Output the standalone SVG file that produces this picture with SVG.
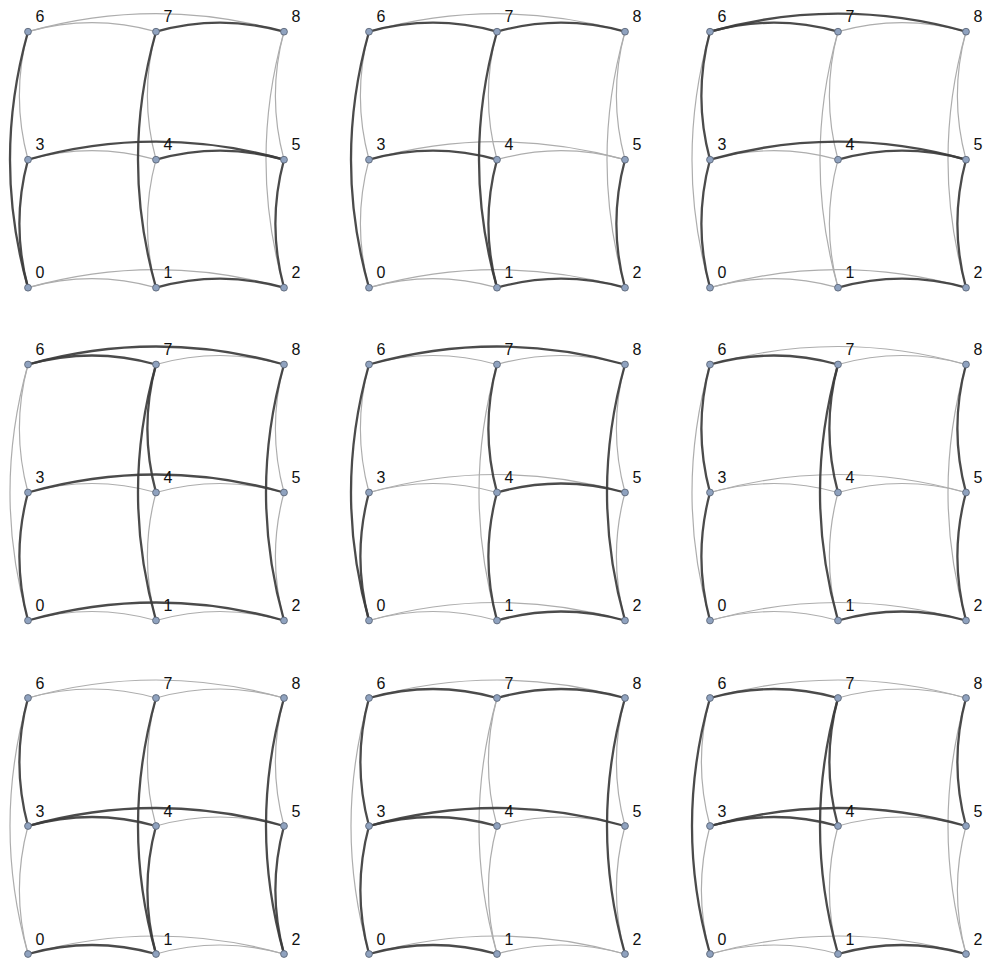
<svg xmlns="http://www.w3.org/2000/svg" width="986" height="960" viewBox="0 0 986 960">
<style>
.g{fill:none;stroke:#adadad;stroke-width:1.2}
.d{fill:none;stroke:#3c3c3c;stroke-width:2.3;stroke-opacity:0.92}
.n circle{fill:#8fa2bf;stroke:#5d6878;stroke-width:0.9}
.n text{font-family:"Liberation Sans",Arial,sans-serif;font-size:16px;fill:#111}
</style>
<defs>
<path id="e67" d="M0 0 C42.7 -12 85.3 -12 128 0"/>
<path id="e78" d="M128 0 C170.7 -12 213.3 -12 256 0"/>
<path id="e68" d="M0 0 C85.3 -24 170.7 -24 256 0"/>
<path id="e34" d="M0 128 C42.7 116 85.3 116 128 128"/>
<path id="e45" d="M128 128 C170.7 116 213.3 116 256 128"/>
<path id="e35" d="M0 128 C85.3 104 170.7 104 256 128"/>
<path id="e01" d="M0 256 C42.7 244 85.3 244 128 256"/>
<path id="e12" d="M128 256 C170.7 244 213.3 244 256 256"/>
<path id="e02" d="M0 256 C85.3 232 170.7 232 256 256"/>
<path id="e63" d="M0 0 C-11.5 42.7 -11.5 85.3 0 128"/>
<path id="e30" d="M0 128 C-11.5 170.7 -11.5 213.3 0 256"/>
<path id="e60" d="M0 0 C-24 85.3 -24 170.7 0 256"/>
<path id="e74" d="M128 0 C116.5 42.7 116.5 85.3 128 128"/>
<path id="e41" d="M128 128 C116.5 170.7 116.5 213.3 128 256"/>
<path id="e71" d="M128 0 C104 85.3 104 170.7 128 256"/>
<path id="e85" d="M256 0 C244.5 42.7 244.5 85.3 256 128"/>
<path id="e52" d="M256 128 C244.5 170.7 244.5 213.3 256 256"/>
<path id="e82" d="M256 0 C232 85.3 232 170.7 256 256"/>
<g id="nodes">
<g class="n"><circle cx="0" cy="256" r="3.4"/><text x="7.5" y="246.5">0</text></g>
<g class="n"><circle cx="128" cy="256" r="3.4"/><text x="135.5" y="246.5">1</text></g>
<g class="n"><circle cx="256" cy="256" r="3.4"/><text x="263.5" y="246.5">2</text></g>
<g class="n"><circle cx="0" cy="128" r="3.4"/><text x="7.5" y="118.5">3</text></g>
<g class="n"><circle cx="128" cy="128" r="3.4"/><text x="135.5" y="118.5">4</text></g>
<g class="n"><circle cx="256" cy="128" r="3.4"/><text x="263.5" y="118.5">5</text></g>
<g class="n"><circle cx="0" cy="0" r="3.4"/><text x="7.5" y="-9.5">6</text></g>
<g class="n"><circle cx="128" cy="0" r="3.4"/><text x="135.5" y="-9.5">7</text></g>
<g class="n"><circle cx="256" cy="0" r="3.4"/><text x="263.5" y="-9.5">8</text></g>
</g>
</defs>

<g id="panel1" transform="translate(28,31.7)">
<g id="p1-edges">
<use href="#e67" class="g"/><use href="#e68" class="g"/><use href="#e34" class="g"/><use href="#e01" class="g"/><use href="#e02" class="g"/><use href="#e63" class="g"/><use href="#e74" class="g"/><use href="#e41" class="g"/><use href="#e85" class="g"/><use href="#e82" class="g"/>
<use href="#e78" class="d"/><use href="#e60" class="d"/><use href="#e30" class="d"/><use href="#e35" class="d"/><use href="#e45" class="d"/><use href="#e71" class="d"/><use href="#e12" class="d"/><use href="#e52" class="d"/>
</g>
<g id="p1-nodes"><use href="#nodes"/></g>
</g>

<g id="panel2" transform="translate(369,31.7)">
<g id="p2-edges">
<use href="#e68" class="g"/><use href="#e45" class="g"/><use href="#e35" class="g"/><use href="#e01" class="g"/><use href="#e02" class="g"/><use href="#e63" class="g"/><use href="#e30" class="g"/><use href="#e74" class="g"/><use href="#e85" class="g"/><use href="#e82" class="g"/>
<use href="#e67" class="d"/><use href="#e78" class="d"/><use href="#e60" class="d"/><use href="#e34" class="d"/><use href="#e71" class="d"/><use href="#e41" class="d"/><use href="#e52" class="d"/><use href="#e12" class="d"/>
</g>
<g id="p2-nodes"><use href="#nodes"/></g>
</g>

<g id="panel3" transform="translate(710,31.7)">
<g id="p3-edges">
<use href="#e78" class="g"/><use href="#e34" class="g"/><use href="#e01" class="g"/><use href="#e02" class="g"/><use href="#e60" class="g"/><use href="#e74" class="g"/><use href="#e41" class="g"/><use href="#e71" class="g"/><use href="#e85" class="g"/><use href="#e82" class="g"/>
<use href="#e68" class="d"/><use href="#e67" class="d"/><use href="#e63" class="d"/><use href="#e30" class="d"/><use href="#e35" class="d"/><use href="#e45" class="d"/><use href="#e52" class="d"/><use href="#e12" class="d"/>
</g>
<g id="p3-nodes"><use href="#nodes"/></g>
</g>

<g id="panel4" transform="translate(28,364.5)">
<g id="p4-edges">
<use href="#e78" class="g"/><use href="#e34" class="g"/><use href="#e45" class="g"/><use href="#e01" class="g"/><use href="#e12" class="g"/><use href="#e63" class="g"/><use href="#e60" class="g"/><use href="#e41" class="g"/><use href="#e85" class="g"/><use href="#e52" class="g"/>
<use href="#e68" class="d"/><use href="#e67" class="d"/><use href="#e30" class="d"/><use href="#e74" class="d"/><use href="#e71" class="d"/><use href="#e35" class="d"/><use href="#e82" class="d"/><use href="#e02" class="d"/>
</g>
<g id="p4-nodes"><use href="#nodes"/></g>
</g>

<g id="panel5" transform="translate(369,364.5)">
<g id="p5-edges">
<use href="#e67" class="g"/><use href="#e78" class="g"/><use href="#e34" class="g"/><use href="#e35" class="g"/><use href="#e01" class="g"/><use href="#e02" class="g"/><use href="#e63" class="g"/><use href="#e71" class="g"/><use href="#e85" class="g"/><use href="#e52" class="g"/>
<use href="#e68" class="d"/><use href="#e60" class="d"/><use href="#e30" class="d"/><use href="#e74" class="d"/><use href="#e41" class="d"/><use href="#e45" class="d"/><use href="#e82" class="d"/><use href="#e12" class="d"/>
</g>
<g id="p5-nodes"><use href="#nodes"/></g>
</g>

<g id="panel6" transform="translate(710,364.5)">
<g id="p6-edges">
<use href="#e78" class="g"/><use href="#e68" class="g"/><use href="#e34" class="g"/><use href="#e45" class="g"/><use href="#e35" class="g"/><use href="#e01" class="g"/><use href="#e02" class="g"/><use href="#e60" class="g"/><use href="#e41" class="g"/><use href="#e82" class="g"/>
<use href="#e67" class="d"/><use href="#e63" class="d"/><use href="#e30" class="d"/><use href="#e74" class="d"/><use href="#e71" class="d"/><use href="#e85" class="d"/><use href="#e52" class="d"/><use href="#e12" class="d"/>
</g>
<g id="p6-nodes"><use href="#nodes"/></g>
</g>

<g id="panel7" transform="translate(28,698)">
<g id="p7-edges">
<use href="#e67" class="g"/><use href="#e78" class="g"/><use href="#e68" class="g"/><use href="#e45" class="g"/><use href="#e12" class="g"/><use href="#e02" class="g"/><use href="#e30" class="g"/><use href="#e60" class="g"/><use href="#e74" class="g"/><use href="#e85" class="g"/>
<use href="#e63" class="d"/><use href="#e34" class="d"/><use href="#e35" class="d"/><use href="#e71" class="d"/><use href="#e41" class="d"/><use href="#e82" class="d"/><use href="#e52" class="d"/><use href="#e01" class="d"/>
</g>
<g id="p7-nodes"><use href="#nodes"/></g>
</g>

<g id="panel8" transform="translate(369,698)">
<g id="p8-edges">
<use href="#e68" class="g"/><use href="#e45" class="g"/><use href="#e12" class="g"/><use href="#e02" class="g"/><use href="#e60" class="g"/><use href="#e74" class="g"/><use href="#e41" class="g"/><use href="#e71" class="g"/><use href="#e85" class="g"/><use href="#e52" class="g"/>
<use href="#e67" class="d"/><use href="#e78" class="d"/><use href="#e63" class="d"/><use href="#e30" class="d"/><use href="#e34" class="d"/><use href="#e35" class="d"/><use href="#e82" class="d"/><use href="#e01" class="d"/>
</g>
<g id="p8-nodes"><use href="#nodes"/></g>
</g>

<g id="panel9" transform="translate(710,698)">
<g id="p9-edges">
<use href="#e78" class="g"/><use href="#e68" class="g"/><use href="#e45" class="g"/><use href="#e01" class="g"/><use href="#e02" class="g"/><use href="#e63" class="g"/><use href="#e30" class="g"/><use href="#e41" class="g"/><use href="#e52" class="g"/><use href="#e82" class="g"/>
<use href="#e67" class="d"/><use href="#e60" class="d"/><use href="#e34" class="d"/><use href="#e35" class="d"/><use href="#e74" class="d"/><use href="#e71" class="d"/><use href="#e85" class="d"/><use href="#e12" class="d"/>
</g>
<g id="p9-nodes"><use href="#nodes"/></g>
</g>
</svg>
